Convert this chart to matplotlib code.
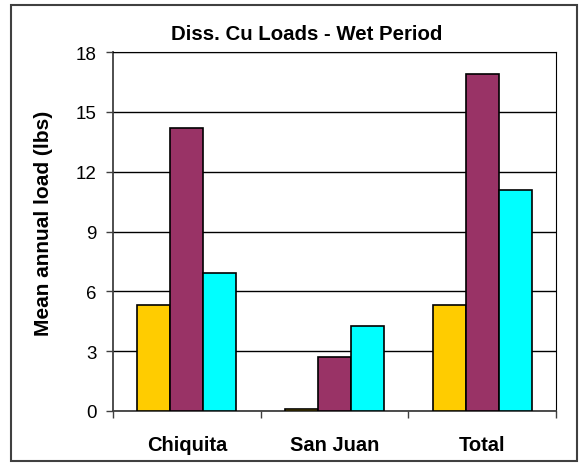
import numpy as np
import matplotlib
matplotlib.use("Agg")
import matplotlib.pyplot as plt
from matplotlib.patches import Rectangle

plt.rcParams['font.family'] = ['Liberation Sans', 'DejaVu Sans']

# donnees
sites = ["Chiquita", "San Juan", "Total"]
serie_a = [5.3, 0.1, 5.3]
serie_b = [14.2, 2.7, 16.9]
serie_c = [6.9, 4.25, 11.1]
couleurs = ["#FFCC00", "#993366", "#00FFFF"]
yticks = [0, 3, 6, 9, 12, 15, 18]

fig = plt.figure(figsize=(5.88, 4.64), dpi=100)
ax = fig.add_axes([113 / 588, 1 - 412 / 464, (556 - 113) / 588, (412 - 53) / 464])

# cadre exterieur
fig.patches.append(Rectangle((11 / 588, 1 - 462 / 464), 566 / 588, 456 / 464,
                             transform=fig.transFigure, fill=False,
                             edgecolor="#404040", linewidth=1.5))

x = np.arange(len(sites))
w = 0.2235
for i, vals in enumerate([serie_a, serie_b, serie_c]):
    ax.bar(x + (i - 1) * w, vals, w, color=couleurs[i], edgecolor="black",
           linewidth=1.2, zorder=3)

ax.set_xlim(-0.5, 2.5)
ax.set_ylim(0, 18)
ax.set_yticks(yticks)
ax.yaxis.grid(True, color="black", linewidth=1.0, zorder=0)
ax.set_axisbelow(True)

ax.set_xticks(x)
ax.set_xticklabels(sites, fontsize=14.5, fontweight="bold")
ax.set_xticks([-0.5, 0.5, 1.5, 2.5], minor=True)
ax.tick_params(axis="x", which="major", length=0, pad=17)
ax.tick_params(axis="x", which="minor", length=5, width=1, direction="out", color="#404040")
ax.tick_params(axis="y", length=5, width=1, direction="out", labelsize=13.5, pad=7, color="#404040")

for s in ["left", "bottom"]:
    ax.spines[s].set_color("#404040")
    ax.spines[s].set_linewidth(1.3)
ax.spines["right"].set_color("black")
ax.spines["top"].set_color("black")

ax.set_ylabel("Mean annual load (lbs)", fontsize=15, fontweight="bold")
ax.yaxis.set_label_coords(-0.136, 0.526)
fig.text(307 / 588, 1 - 35 / 464, "Diss. Cu Loads - Wet Period", fontsize=14.7,
         fontweight="bold", ha="center", va="center")

fig.savefig("out.png", dpi=100)
